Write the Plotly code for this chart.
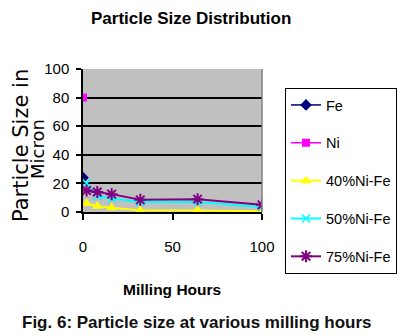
import plotly.graph_objects as go

# ---- data ----
fe_x = [0]
fe_y = [24]
ni_x = [0]
ni_y = [80]
alloy_hours = [2, 8, 16, 32, 64, 100]
ni40_y = [6, 4, 3, 1, 1, 0.5]
ni50_y = [20, 11, 9.5, 7, 7, 3.5]
ni75_y = [15, 14, 12.5, 8.5, 9, 5]
y_ticks = [0, 20, 40, 60, 80, 100]
x_ticks = [0, 50, 100]

SANS = "Liberation Sans, Arial, sans-serif"

W, H = 404, 336
L, R, T, B = 83, 262, 69, 212  # plot area pixel box

def px(x):
    return (x - L) / (R - L)

def py(y):
    return (B - y) / (B - T)

fig = go.Figure()
fig.add_trace(go.Scatter(x=fe_x, y=fe_y, name="Fe", mode="lines+markers",
                         line=dict(color="#000080", width=1.5),
                         marker=dict(symbol="diamond", size=9, color="#000080"),
                         legendgroup="a"))
fig.add_trace(go.Scatter(x=ni_x, y=ni_y, name="Ni", mode="lines+markers",
                         line=dict(color="#FF00FF", width=1.5),
                         marker=dict(symbol="square", size=8, color="#FF00FF"),
                         legendgroup="b"))
fig.add_trace(go.Scatter(x=alloy_hours, y=ni40_y, name="40%Ni-Fe", mode="lines+markers",
                         line=dict(color="#FFFF00", width=2),
                         marker=dict(symbol="triangle-up", size=10, color="#FFFF00"),
                         legendgroup="c"))
fig.add_trace(go.Scatter(x=alloy_hours, y=ni50_y, name="50%Ni-Fe", mode="lines+markers",
                         line=dict(color="#00FFFF", width=2),
                         marker=dict(symbol="x-thin-open", size=8, color="#00FFFF",
                                     line=dict(width=1.5, color="#00FFFF")),
                         legendgroup="d"))
fig.add_trace(go.Scatter(x=alloy_hours, y=ni75_y, name="75%Ni-Fe", mode="lines+markers",
                         line=dict(color="#800080", width=2),
                         marker=dict(symbol="asterisk-open", size=10, color="#800080",
                                     line=dict(width=2, color="#800080")),
                         legendgroup="e"))

fig.update_layout(
    width=W, height=H,
    margin=dict(l=L, r=W - R, t=T, b=H - B, pad=0, autoexpand=False),
    paper_bgcolor="white",
    plot_bgcolor="#C0C0C0",
    showlegend=True,
    legend=dict(
        x=px(285), y=py(88), xanchor="left", yanchor="top",
        bgcolor="white", bordercolor="black", borderwidth=1,
        font=dict(family=SANS, size=14.5, color="black"),
        itemwidth=30, tracegroupgap=16, maxheight=260,
    ),
    xaxis=dict(
        range=[0, 100], tickvals=x_ticks, showgrid=False, zeroline=False,
        showline=True, linecolor="black", linewidth=1.5,
        ticks="outside", ticklen=6, tickcolor="black", tickwidth=1.5,
        tickfont=dict(family=SANS, size=15, color="black"),
        ticklabelstandoff=14,
    ),
    yaxis=dict(
        range=[0, 100], tickvals=y_ticks, showgrid=True, gridcolor="black", gridwidth=1.5,
        zeroline=False, showline=True, linecolor="black", linewidth=1.5,
        ticks="outside", ticklen=5, tickcolor="black", tickwidth=1.5,
        tickfont=dict(family=SANS, size=15, color="black"),
        ticklabelstandoff=4,
    ),
    shapes=[
        dict(type="line", xref="paper", yref="paper", x0=1, x1=1, y0=0, y1=1,
             line=dict(color="#808080", width=1.5)),
    ],
    annotations=[
        dict(text="<b>Particle Size Distribution</b>", xref="paper", yref="paper",
             x=px(191), y=py(18), showarrow=False, xanchor="center", yanchor="middle",
             font=dict(family=SANS, size=17, color="black")),
        dict(text="Particle Size in", xref="paper", yref="paper",
             x=px(21), y=py(145), showarrow=False, textangle=-90,
             xanchor="center", yanchor="middle",
             font=dict(family="DejaVu Sans, sans-serif", size=21, color="black")),
        dict(text="Micron", xref="paper", yref="paper",
             x=px(37), y=py(149), showarrow=False, textangle=-90,
             xanchor="center", yanchor="middle",
             font=dict(family="DejaVu Sans, sans-serif", size=18, color="black")),
        dict(text="<b>Milling Hours</b>", xref="paper", yref="paper",
             x=px(172), y=py(289), showarrow=False, xanchor="center", yanchor="middle",
             font=dict(family=SANS, size=15.5, color="black")),
        dict(text="<b>Fig. 6: Particle size at various milling hours</b>", xref="paper", yref="paper",
             x=px(197), y=py(322), showarrow=False, xanchor="center", yanchor="middle",
             font=dict(family=SANS, size=17, color="#111111")),
    ],
)

fig.write_html("out.html")
